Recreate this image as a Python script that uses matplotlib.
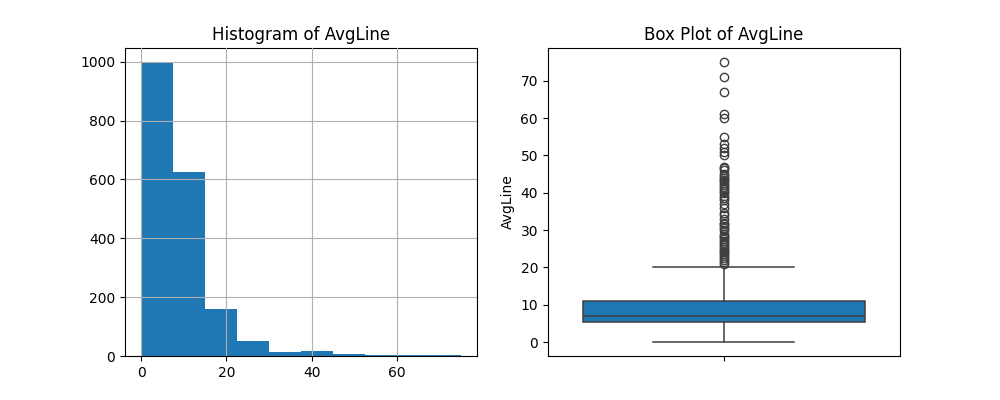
import matplotlib
matplotlib.use("Agg")
import matplotlib.pyplot as plt
import numpy as np

bin_edges = list(np.linspace(0, 75, 11))
counts = [997, 624, 160, 51, 14, 17, 8, 3, 2, 2]

box_q1, box_med, box_q3 = 5.3, 7.0, 11.0
whisk_lo, whisk_hi = 0.0, 20.0
outliers = [21, 21.5, 22, 22.5, 23, 23.5, 24, 24.5, 25, 25.5, 26, 26.5, 27, 27.5, 28, 28.5,
            29, 30, 30.5, 31, 31.5, 32, 33, 34, 34.5, 36, 37, 38, 38.5, 39, 40, 40.5, 41,
            41.5, 42, 42.5, 43, 43.5, 44, 44.5, 45, 46, 46.5, 47, 50, 51, 52, 53, 55,
            60, 61, 67, 71, 75]

fig, (ax1, ax2) = plt.subplots(1, 2, figsize=(10, 4), dpi=100)
widths = np.diff(bin_edges)
ax1.bar(bin_edges[:-1], counts, width=widths, align="edge", color="#1f77b4")
ax1.grid(True)
ax1.set_axisbelow(False)
ax1.set_title("Histogram of AvgLine")

stats = [dict(med=box_med, q1=box_q1, q3=box_q3, whislo=whisk_lo, whishi=whisk_hi,
              fliers=outliers)]
ec = "#3f3f3f"
ax2.bxp(stats, positions=[0], widths=0.8, patch_artist=True,
        boxprops=dict(facecolor="#1f77b4", edgecolor=ec, linewidth=1.1),
        medianprops=dict(color=ec, linewidth=1.1),
        whiskerprops=dict(color=ec, linewidth=1.1),
        capprops=dict(color=ec, linewidth=1.1),
        flierprops=dict(marker="o", markerfacecolor="none", markeredgecolor=ec, markersize=6))
ax2.set_xlim(-0.5, 0.5)
ax2.set_xticks([0])
ax2.set_xticklabels([""])
ax2.set_ylabel("AvgLine")
ax2.set_title("Box Plot of AvgLine")
fig.savefig("out.png")
